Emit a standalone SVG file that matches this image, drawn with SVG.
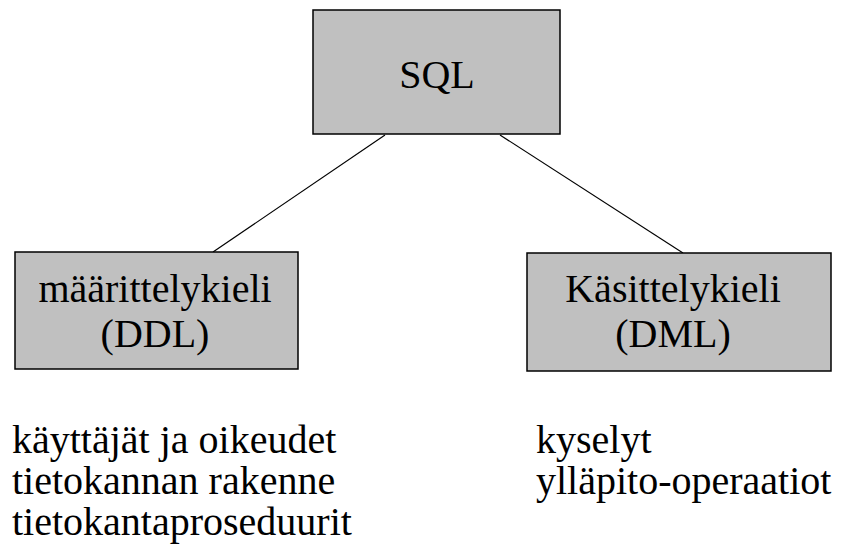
<svg xmlns="http://www.w3.org/2000/svg" width="845" height="556" viewBox="0 0 845 556">
  <style>
    .box { fill: #c0c0c0; stroke: #000; stroke-width: 1.5; }
    .lbl { font-family: "Liberation Serif", "Times New Roman", serif; font-size: 40px; fill: #000; }
    .mid { text-anchor: middle; }
    .edge { stroke: #000; stroke-width: 1.2; fill: none; }
  </style>
  <rect width="845" height="556" fill="#fff"/>

  <g id="connectors">
    <line class="edge" x1="385" y1="135" x2="213" y2="252"/>
    <line class="edge" x1="500" y1="135" x2="683" y2="253"/>
  </g>

  <g id="sql">
    <rect class="box" x="313" y="10" width="247" height="124"/>
    <text class="lbl mid" x="437" y="88">SQL</text>
  </g>

  <g id="ddl">
    <rect class="box" x="15" y="252" width="283" height="117"/>
    <text class="lbl mid" x="155" y="302">määrittelykieli</text>
    <text class="lbl mid" x="155" y="347">(DDL)</text>
  </g>

  <g id="dml">
    <rect class="box" x="527" y="253" width="304" height="118"/>
    <text class="lbl mid" x="673" y="302">Käsittelykieli</text>
    <text class="lbl mid" x="673" y="347">(DML)</text>
  </g>

  <g id="ddl-items">
    <text class="lbl" x="12" y="453">käyttäjät ja oikeudet</text>
    <text class="lbl" x="12" y="494">tietokannan rakenne</text>
    <text class="lbl" x="12" y="535">tietokantaproseduurit</text>
  </g>

  <g id="dml-items">
    <text class="lbl" x="536" y="453">kyselyt</text>
    <text class="lbl" x="536" y="494">ylläpito-operaatiot</text>
  </g>
</svg>
